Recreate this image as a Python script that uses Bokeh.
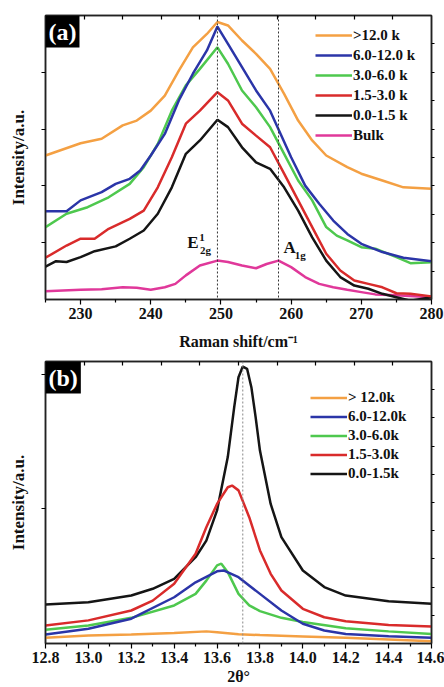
from bokeh.plotting import figure
from bokeh.models import (Range1d, LinearAxis, FixedTicker, Span, Label, Legend,
                          LegendItem, PrintfTickFormatter)
from bokeh.layouts import column
from bokeh.embed import file_html
from bokeh.resources import INLINE

FONT = "Liberation Serif"

# ---------------- Panel (a): Raman ----------------
a_labels = [">12.0 k", "6.0-12.0 k", "3.0-6.0 k", "1.5-3.0 k", "0.0-1.5 k", "Bulk"]
a_colors = ["#F4A043", "#2B35A8", "#4EC84E", "#D92B2B", "#151515", "#E0389A"]

a_x_orange = [225, 230, 233, 236, 238, 240, 242, 244, 246, 248, 249.5, 251, 253, 255, 257, 259, 261, 263, 265, 268, 270, 273, 276, 280]
a_y_orange = [5.07, 5.50, 5.66, 6.13, 6.30, 6.65, 7.18, 8.06, 8.88, 9.35, 9.77, 9.65, 9.12, 8.65, 8.12, 7.24, 6.30, 5.60, 5.07, 4.66, 4.43, 4.19, 3.95, 3.90]

a_x_blue = [225, 228, 230, 233, 235, 237, 238.5, 240, 242, 244, 246, 248, 249.5, 251, 253, 255, 257, 258.5, 260, 262, 264, 266, 268, 270, 273, 276, 280]
a_y_blue = [3.11, 3.11, 3.49, 3.78, 4.07, 4.25, 4.54, 5.07, 5.83, 7.01, 7.95, 8.77, 9.61, 9.00, 8.18, 7.36, 6.65, 5.83, 5.01, 4.01, 3.37, 2.78, 2.31, 1.96, 1.67, 1.47, 1.35]

a_x_green = [225, 228, 231, 234, 237, 239, 241, 243, 245, 247, 249.5, 251, 253, 255, 257, 259, 261, 263, 265, 266.5, 268, 270, 272, 275, 277, 280]
a_y_green = [2.55, 3.02, 3.25, 3.60, 4.07, 4.66, 5.48, 6.65, 7.54, 8.12, 8.88, 8.30, 7.36, 6.77, 6.07, 5.13, 4.19, 3.49, 2.55, 2.25, 2.08, 1.84, 1.79, 1.49, 1.28, 1.31]

a_x_red = [225, 228, 230, 232, 234, 237, 239, 241, 243, 245, 247, 249.5, 251, 253, 255, 257, 259, 261, 263, 265, 267, 269, 271, 273, 275, 277, 280]
a_y_red = [1.47, 1.90, 2.14, 2.14, 2.49, 2.84, 3.13, 3.95, 5.01, 6.19, 6.65, 7.30, 7.01, 6.19, 5.77, 5.36, 4.43, 3.49, 2.55, 1.61, 1.02, 0.67, 0.55, 0.43, 0.22, 0.20, 0.11]

a_x_black = [225, 226.5, 228, 230, 232, 235, 237, 239, 241, 243, 245, 247, 249.5, 251, 253, 255, 257, 259, 261, 263, 265, 267, 269, 271, 273, 275, 277, 280]
a_y_black = [1.16, 1.35, 1.32, 1.49, 1.70, 1.87, 2.14, 2.43, 3.02, 3.95, 5.13, 5.60, 6.33, 6.07, 5.36, 4.83, 4.60, 3.95, 3.13, 2.19, 1.37, 0.79, 0.49, 0.38, 0.20, 0.08, -0.04, 0.08]

a_x_pink = [225, 230, 233, 236, 238, 240, 242, 243.5, 245, 247, 249.5, 251, 253, 255, 256.5, 258.2, 260, 262, 264, 266, 268, 270, 272, 275, 280]
a_y_pink = [0.29, 0.34, 0.36, 0.43, 0.41, 0.34, 0.43, 0.55, 0.85, 1.20, 1.37, 1.32, 1.20, 1.10, 1.25, 1.37, 1.14, 0.79, 0.55, 0.43, 0.34, 0.26, 0.18, 0.15, 0.08]

a_xticks = [230, 240, 250, 260, 270, 280]
a_xminor = [225, 235, 245, 255, 265, 275]
a_peaks = [249.5, 258.2]

# ---------------- Panel (b): XRD ----------------
b_labels = ["> 12.0k", "6.0-12.0k", "3.0-6.0k", "1.5-3.0k", "0.0-1.5k"]
b_colors = ["#F4A043", "#2B35A8", "#4EC84E", "#D92B2B", "#151515"]

b_x_orange = [12.8, 13.0, 13.2, 13.4, 13.55, 13.6, 13.7, 13.8, 14.0, 14.2, 14.4, 14.6]
b_y_orange = [0.20, 0.28, 0.32, 0.37, 0.43, 0.40, 0.33, 0.30, 0.25, 0.20, 0.14, 0.08]

b_x_blue = [12.8, 13.0, 13.2, 13.4, 13.5, 13.6, 13.63, 13.7, 13.8, 13.9, 14.0, 14.1, 14.2, 14.4, 14.6]
b_y_blue = [0.32, 0.52, 0.88, 1.64, 2.17, 2.56, 2.59, 2.35, 1.76, 1.17, 0.70, 0.46, 0.34, 0.26, 0.20]

b_x_green = [12.8, 13.0, 13.2, 13.4, 13.5, 13.55, 13.6, 13.62, 13.65, 13.7, 13.75, 13.8, 13.9, 14.0, 14.2, 14.4, 14.6]
b_y_green = [0.49, 0.64, 0.91, 1.35, 1.76, 2.23, 2.77, 2.83, 2.53, 1.76, 1.35, 1.15, 0.91, 0.76, 0.54, 0.43, 0.34]

b_x_red = [12.8, 13.0, 13.2, 13.3, 13.4, 13.5, 13.55, 13.6, 13.65, 13.67, 13.7, 13.75, 13.8, 13.85, 13.9, 14.0, 14.1, 14.2, 14.4, 14.6]
b_y_red = [0.64, 0.82, 1.17, 1.52, 2.12, 3.18, 4.12, 4.95, 5.54, 5.60, 5.43, 4.48, 3.30, 2.47, 1.88, 1.23, 0.93, 0.79, 0.66, 0.60]

b_x_black = [12.8, 13.0, 13.2, 13.3, 13.4, 13.5, 13.55, 13.6, 13.65, 13.68, 13.7, 13.72, 13.74, 13.76, 13.78, 13.8, 13.85, 13.9, 14.0, 14.1, 14.2, 14.4, 14.6]
b_y_black = [1.38, 1.46, 1.70, 1.94, 2.29, 3.06, 3.65, 4.72, 6.61, 8.38, 9.44, 9.82, 9.74, 9.09, 8.02, 6.84, 4.95, 3.77, 2.59, 2.00, 1.70, 1.50, 1.41]

b_xticks = [12.8, 13.0, 13.2, 13.4, 13.6, 13.8, 14.0, 14.2, 14.4, 14.6]
b_xminor = [12.9, 13.1, 13.3, 13.5, 13.7, 13.9, 14.1, 14.3, 14.5]
b_peak = 13.72

DIV10 = [1, 2, 3, 4, 5, 6, 7, 8, 9]


def bare_axis(**kw):
    return LinearAxis(major_label_text_font_size="0px", major_label_text_color=None,
                      major_label_standoff=0, minor_tick_in=0, minor_tick_out=0,
                      major_tick_line_width=1.2, axis_line_color="#222222",
                      axis_line_width=1.5, **kw)


def style_common(p, xticks, xminor, xlabel, xstand, left_ticks, left_stand):
    p.grid.visible = False
    p.outline_line_color = "#222222"
    p.outline_line_width = 1.5
    p.background_fill_color = "white"
    p.border_fill_color = "white"

    xa = p.below[0]
    xa.ticker = FixedTicker(ticks=xticks, minor_ticks=xminor)
    xa.axis_line_color = "#222222"
    xa.axis_line_width = 1.5
    xa.major_tick_in = 0
    xa.major_tick_out = 5
    xa.minor_tick_in = 0
    xa.minor_tick_out = 3
    xa.major_tick_line_width = 1.2
    xa.minor_tick_line_width = 1.2
    xa.major_label_text_font = FONT
    xa.major_label_text_font_style = "bold"
    xa.major_label_text_font_size = "16px"
    xa.major_label_text_color = "#111111"
    xa.major_label_standoff = 3
    xa.axis_label = xlabel
    xa.axis_label_text_font = FONT
    xa.axis_label_text_font_style = "bold"
    xa.axis_label_text_font_size = "16px"
    xa.axis_label_text_color = "#111111"
    xa.axis_label_standoff = xstand

    ya = p.left[0]
    ya.ticker = FixedTicker(ticks=left_ticks, minor_ticks=[])
    ya.axis_line_color = "#222222"
    ya.axis_line_width = 1.5
    ya.major_tick_in = 0
    ya.major_tick_out = 4
    ya.major_tick_line_width = 1.2
    ya.minor_tick_out = 0
    ya.minor_tick_in = 0
    ya.major_label_text_font_size = "0px"
    ya.major_label_text_color = None
    ya.major_label_standoff = 0
    ya.axis_label = "Intensity/a.u."
    ya.axis_label_text_font = FONT
    ya.axis_label_text_font_style = "bold"
    ya.axis_label_text_font_size = "17px"
    ya.axis_label_text_color = "#111111"
    ya.axis_label_standoff = left_stand

    # right axis: 10 equal divisions, ticks outside
    p.add_layout(bare_axis(ticker=FixedTicker(ticks=DIV10, minor_ticks=[]),
                           major_tick_in=0, major_tick_out=3), "right")

    # top axis: 10 equal divisions, ticks inside
    p.extra_x_ranges = {"top": Range1d(0, 10)}
    p.add_layout(bare_axis(x_range_name="top",
                           ticker=FixedTicker(ticks=DIV10, minor_ticks=[]),
                           major_tick_in=4, major_tick_out=0), "above")


def add_legend(p, renderers, labels, loc, row_h):
    items = [LegendItem(label=l, renderers=[r]) for l, r in zip(labels, renderers)]
    leg = Legend(items=items, location=loc, glyph_width=37, glyph_height=row_h,
                 label_height=row_h, spacing=0, padding=0, margin=0, label_standoff=1,
                 label_text_font=FONT, label_text_font_style="bold",
                 label_text_font_size="15px", label_text_color="#111111",
                 border_line_alpha=0, background_fill_alpha=0)
    p.add_layout(leg)


def panel_tag(p, x, y, txt):
    p.add_layout(Label(x=x, y=y, text=txt, text_align="left", text_baseline="top",
                       text_font=FONT, text_font_style="bold", text_font_size="24px",
                       text_color="white", background_fill_color="black",
                       padding=3))


# ---------- Figure (a) ----------
pa = figure(width=444, height=355, output_backend="svg", toolbar_location=None,
            x_range=Range1d(225, 280), y_range=Range1d(0, 10),
            min_border_left=45, min_border_right=13, min_border_top=15, min_border_bottom=56)
style_common(pa, a_xticks, a_xminor, "Raman shift/cm\u207b\u00b9", 11, [2, 4, 6, 8], 14)

for loc in a_peaks:
    pa.add_layout(Span(location=loc, dimension="height", line_color="#333333",
                       line_dash="2 2", line_width=1))

a_series = [(a_x_orange, a_y_orange), (a_x_blue, a_y_blue), (a_x_green, a_y_green),
            (a_x_red, a_y_red), (a_x_black, a_y_black), (a_x_pink, a_y_pink)]
a_rend = [None] * 6
for i in [5, 4, 3, 2, 1, 0]:
    xs, ys = a_series[i]
    a_rend[i] = pa.line(xs, ys, line_color=a_colors[i], line_width=2.5)
add_legend(pa, a_rend, a_labels, (270, 154), 20)

lab_kw = dict(text_font=FONT, text_font_style="bold", text_color="#111111",
              text_baseline="middle", text_align="left")
pa.add_layout(Label(x=245.2, y=1.99, text="E", text_font_size="17px", **lab_kw))
pa.add_layout(Label(x=246.9, y=2.20, text="1", text_font_size="11px", **lab_kw))
pa.add_layout(Label(x=247.0, y=1.74, text="2g", text_font_size="11px", **lab_kw))
pa.add_layout(Label(x=258.9, y=1.82, text="A", text_font_size="17px", **lab_kw))
pa.add_layout(Label(x=260.5, y=1.55, text="1g", text_font_size="11px", **lab_kw))
panel_tag(pa, 225, 10, "(a)")

# ---------- Figure (b) ----------
pb = figure(width=444, height=332, output_backend="svg", toolbar_location=None,
            x_range=Range1d(12.8, 14.6), y_range=Range1d(0, 10),
            min_border_left=42, min_border_right=13, min_border_top=6, min_border_bottom=44)
style_common(pb, b_xticks, b_xminor, "2\u03b8\u00b0", 2, [4.77, 9.54], 14)
pb.below[0].formatter = PrintfTickFormatter(format="%.1f")

pb.add_layout(Span(location=b_peak, dimension="height", line_color="#888888",
                   line_dash="2 2", line_width=1))

b_series = [(b_x_orange, b_y_orange), (b_x_blue, b_y_blue), (b_x_green, b_y_green),
            (b_x_red, b_y_red), (b_x_black, b_y_black)]
b_rend = [None] * 5
for i in [4, 3, 2, 1, 0]:
    xs, ys = b_series[i]
    b_rend[i] = pb.line(xs, ys, line_color=b_colors[i], line_width=2.5)
add_legend(pb, b_rend, b_labels, (265, 160), 19)
panel_tag(pb, 12.8, 10, "(b)")

layout = column(pa, pb, spacing=0)
open("out.html", "w").write(file_html(layout, INLINE))
